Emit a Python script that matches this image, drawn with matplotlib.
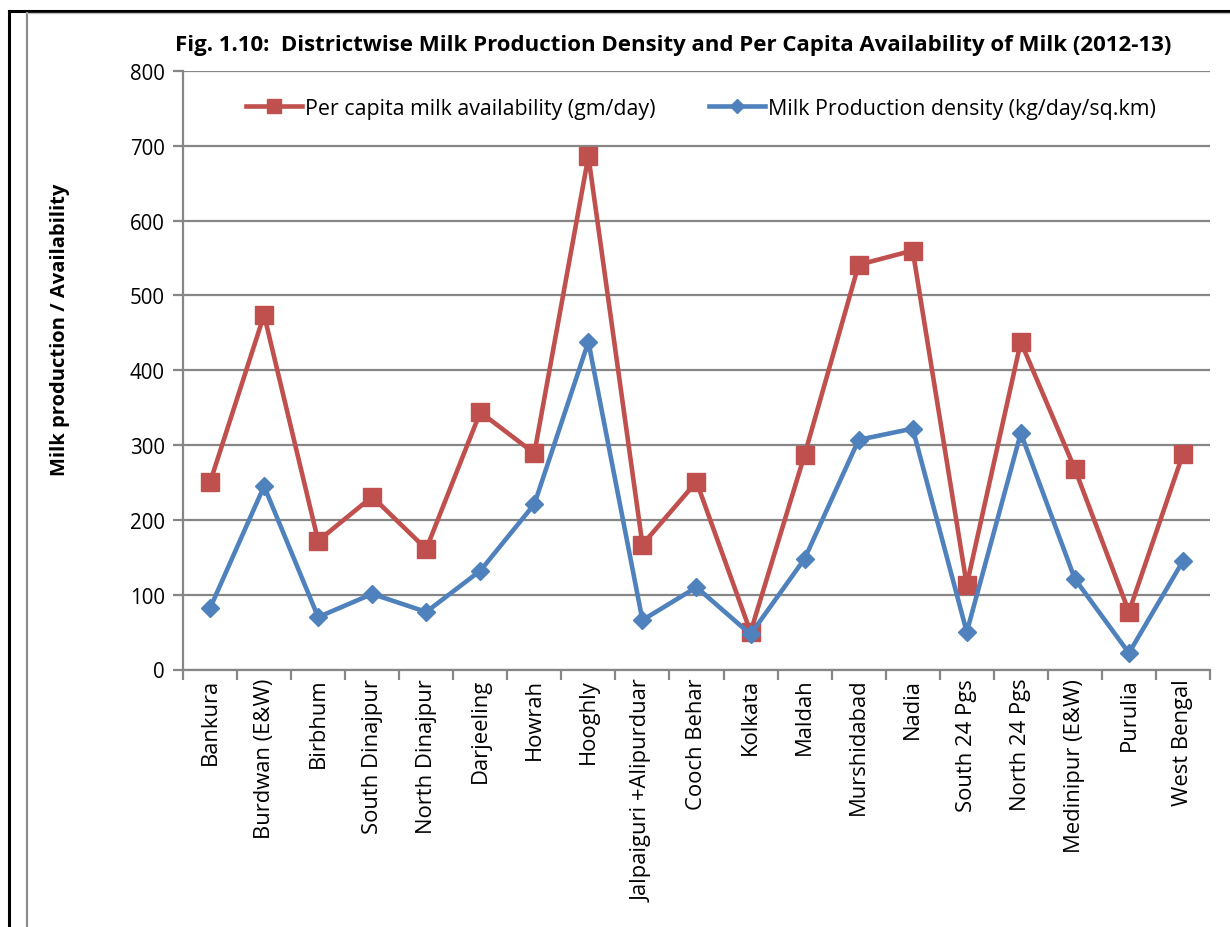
import matplotlib
matplotlib.use("Agg")
import matplotlib.pyplot as plt
from matplotlib.lines import Line2D
from matplotlib.ticker import FixedLocator, MultipleLocator

plt.rcParams['font.family'] = ['Open Sans', 'DejaVu Sans']

districts = ["Bankura", "Burdwan (E&W)", "Birbhum", "South Dinajpur", "North Dinajpur",
             "Darjeeling", "Howrah", "Hooghly", "Jalpaiguri +Alipurduar", "Cooch Behar",
             "Kolkata", "Maldah", "Murshidabad", "Nadia", "South 24 Pgs", "North 24 Pgs",
             "Medinipur (E&W)", "Purulia", "West Bengal"]
per_capita = [250, 474, 172, 231, 161, 344, 289, 686, 167, 251,
              50, 287, 541, 560, 113, 438, 268, 77, 288]
density = [82, 245, 70, 101, 77, 132, 221, 438, 66, 110,
           47, 148, 307, 322, 50, 316, 121, 22, 145]

RED = "#C0504D"
BLUE = "#4F81BD"
GRID = "#868686"

W, H = 1230, 928
fig = plt.figure(figsize=(W / 100, H / 100), dpi=100)

# page frame lines
fig.add_artist(Line2D([8.5 / W, 8.5 / W], [0, 1 - 12 / H], color="black", lw=2.2))
fig.add_artist(Line2D([8.5 / W, 1], [1 - 12 / H, 1 - 12 / H], color="black", lw=2.2))
fig.add_artist(Line2D([27 / W, 27 / W], [0, 1 - 13.5 / H], color="#8c8c8c", lw=1.6))
fig.add_artist(Line2D([27 / W, 1], [1 - 13.5 / H, 1 - 13.5 / H], color="#bfbfbf", lw=1.0))

left, right, top, bottom = 183, 1210, 72, 670.5
ax = fig.add_axes([left / W, 1 - bottom / H, (right - left) / W, (bottom - top) / H])

x = list(range(len(districts)))
ax.plot(x, per_capita, color=RED, lw=3.3, marker="s", ms=13.5,
        markerfacecolor=RED, markeredgecolor=RED, zorder=3,
        label="Per capita milk availability (gm/day)")
ax.plot(x, density, color=BLUE, lw=3.3, marker="D", ms=9.6,
        markerfacecolor=BLUE, markeredgecolor=BLUE, zorder=3,
        label="Milk Production density (kg/day/sq.km)")

ax.set_xlim(-0.5, len(districts) - 0.5)
ax.set_ylim(0, 800)
ax.yaxis.set_major_locator(MultipleLocator(100))
ax.grid(axis="y", color=GRID, lw=1.6)
ax.set_axisbelow(True)

for s in ("top", "right"):
    ax.spines[s].set_visible(False)
for s in ("left", "bottom"):
    ax.spines[s].set_color(GRID)
    ax.spines[s].set_linewidth(1.6)

ax.set_xticks(x)
ax.set_xticklabels(districts, rotation=90, fontsize=15.8)
ax.tick_params(axis="x", which="major", length=0, pad=6)
ax.xaxis.set_minor_locator(FixedLocator([i - 0.5 for i in range(len(districts) + 1)]))
ax.tick_params(axis="x", which="minor", length=7, width=1.6, color=GRID)
ax.tick_params(axis="y", length=7, width=1.6, color=GRID, labelsize=14.8, pad=6)

leg = ax.legend(loc="center", bbox_to_anchor=(0.5045, 1 - (109 - top) / (bottom - top)),
                ncol=2, frameon=False, fontsize=15.4, handlelength=2.6,
                columnspacing=2.5, handletextpad=0.15, markerscale=0.75)

fig.text(673 / W, 1 - 45 / H,
         "Fig. 1.10:  Districtwise Milk Production Density and Per Capita Availability of Milk (2012-13)",
         ha="center", va="center", fontsize=16, fontweight="bold")
fig.text(60 / W, 1 - 330 / H, "Milk production / Availability", rotation=90,
         ha="center", va="center", fontsize=14.5, fontweight="bold")

fig.savefig("out.png", dpi=100, facecolor="white")
